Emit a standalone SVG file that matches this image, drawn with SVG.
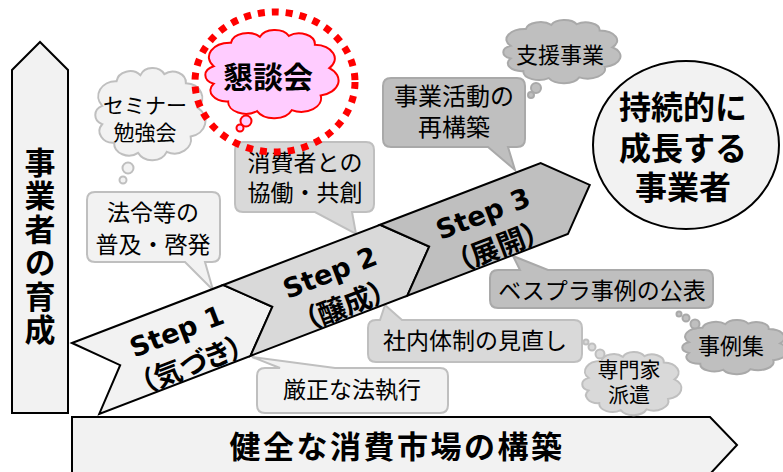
<svg xmlns="http://www.w3.org/2000/svg" xmlns:xlink="http://www.w3.org/1999/xlink" width="783" height="472" viewBox="0 0 783 472">
<style>
.blk{stroke:#000;stroke-width:2;stroke-linejoin:miter}
.g1{fill:#f2f2f2;stroke:#bfbfbf;stroke-width:2}
.g2{fill:#d9d9d9;stroke:#bfbfbf;stroke-width:2}
.g3{fill:#bfbfbf;stroke:#a9a9a9;stroke-width:2}
.pink{fill:#ffccff;stroke:#ff0000;stroke-width:2}
.t{font-family:"Noto Sans CJK JP","Noto Sans CJK SC",sans-serif;fill:#000;text-anchor:middle}
.b{font-weight:bold}
.s{font-family:"DejaVu Sans","Noto Sans CJK JP",sans-serif;font-weight:bold;font-size:27px;text-anchor:middle;fill:#000}
.p{font-family:"Noto Sans CJK JP",sans-serif;font-weight:bold;font-size:28px;text-anchor:middle;fill:#000;font-feature-settings:"palt"}
</style>
<defs>
<path id="cloud" vector-effect="non-scaling-stroke" d="M10,42 A14.7,14.7 0 0 1 22,18 A11.5,11.5 0 0 1 42,12 A11,11 0 0 1 62,11 A11,11 0 0 1 80,20 A14.3,14.3 0 0 1 90,44 A15.7,15.7 0 0 1 84,72 A13.8,13.8 0 0 1 64,87 A13.2,13.2 0 0 1 40,88 A12.3,12.3 0 0 1 20,78 A11.3,11.3 0 0 1 10,60 A9.9,9.9 0 0 1 10,42 Z"/>
</defs>
<rect width="783" height="472" fill="#fff"/>

<!-- left vertical arrow -->
<g id="node-ikusei">
<polygon class="blk" fill="#f2f2f2" points="12,70 40,42 68,70 68,413 12,413"/>
<text class="t b" x="40" y="247" font-size="31" letter-spacing="2.5" writing-mode="vertical-rl">事業者の育成</text>
</g>

<!-- bottom arrow -->
<g id="node-shijou">
<polygon class="blk" fill="#f2f2f2" points="72,417 710,417 737,445 710,474 72,474"/>
<text class="t b" x="397" y="458" font-size="31" letter-spacing="2.5">健全な消費市場の構築</text>
</g>

<!-- callouts -->
<g id="node-fukyu">
<path class="g1" d="M95,192 H212 Q220,192 220,200 V254 Q220,262 212,262 H205 L213,290 L185,262 H95 Q87,262 87,254 V200 Q87,192 95,192 Z"/>
<text class="t" font-size="23"><tspan x="153" y="221">法令等の</tspan><tspan x="153" y="253">普及・啓発</tspan></text>
</g>
<g id="node-kyoudou">
<path class="g2" d="M243,142 H366 Q374,142 374,150 V204 Q374,212 366,212 H352 L356,234 L315,212 H243 Q235,212 235,204 V150 Q235,142 243,142 Z"/>
<text class="t" font-size="23"><tspan x="305" y="171">消費者との</tspan><tspan x="305" y="201">協働・共創</tspan></text>
</g>
<g id="node-saikouchiku">
<path class="g3" d="M391,78 H517 Q525,78 525,86 V139 Q525,147 517,147 H508 L515,170 L488,147 H391 Q383,147 383,139 V86 Q383,78 391,78 Z"/>
<text class="t" font-size="24"><tspan x="454" y="105">事業活動の</tspan><tspan x="454" y="136">再構築</tspan></text>
</g>
<g id="node-besupura">
<path class="g3" d="M498,270 H520 L513,256 L548,270 H705 Q713,270 713,278 V300 Q713,308 705,308 H498 Q490,308 490,300 V278 Q490,270 498,270 Z"/>
<text class="t" x="602" y="299" font-size="23">ベスプラ事例の公表</text>
</g>
<g id="node-shanai">
<path class="g2" d="M376,320 H380 L385,305 L402,320 H574 Q582,320 582,328 V354 Q582,362 574,362 H376 Q368,362 368,354 V328 Q368,320 376,320 Z"/>
<text class="t" x="475" y="349" font-size="23">社内体制の見直し</text>
</g>
<g id="node-shikkou">
<path class="g1" d="M265,368 H280 L252,357 L335,368 H440 Q448,368 448,376 V405 Q448,413 440,413 H265 Q257,413 257,405 V376 Q257,368 265,368 Z"/>
<text class="t" x="352" y="398" font-size="23">厳正な法執行</text>
</g>

<!-- steps band -->
<g transform="translate(72,343) rotate(-21)">
<g id="node-step1">
<polygon class="blk" fill="#f2f2f2" points="0,0 162,0 200,38 162,76 0,76 37,38"/>
<text class="s" x="102" y="36">Step 1</text>
<text class="p" x="104" y="73">（気づき）</text>
</g>
<g id="node-step2">
<polygon class="blk" fill="#d9d9d9" points="162,0 330,0 368,38 330,76 162,76 200,38"/>
<text class="s" x="266" y="36">Step 2</text>
<text class="p" x="268" y="73">（醸成）</text>
</g>
<g id="node-step3">
<polygon class="blk" fill="#bfbfbf" points="330,0 502,0 540,38 502,76 330,76 368,38"/>
<text class="s" x="430" y="36">Step 3</text>
<text class="p" x="432" y="73">（展開）</text>
</g>
</g>

<!-- clouds -->
<g id="node-seminar">
<use xlink:href="#cloud" href="#cloud" class="g1" transform="translate(90.22,62.89) scale(1.1957,1.0222)"/>
<text class="t" font-size="21"><tspan x="145" y="113">セミナー</tspan><tspan x="145" y="140">勉強会</tspan></text>
</g>
<g id="node-shien">
<use xlink:href="#cloud" href="#cloud" class="g3" transform="translate(497.91,16.5) scale(1.2717,0.7)"/>
<text class="t" x="560" y="63" font-size="22">支援事業</text>
</g>
<g id="node-jireishu">
<use xlink:href="#cloud" href="#cloud" class="g3" transform="translate(677.43,317) scale(1.1413,0.6)"/>
<text class="t" x="731" y="354" font-size="22">事例集</text>
</g>
<g id="node-senmonka">
<use xlink:href="#cloud" href="#cloud" class="g2" transform="translate(577.7,348.5) scale(1.0761,0.7)"/>
<text class="t" font-size="21"><tspan x="629" y="377">専門家</tspan><tspan x="629" y="402">派遣</tspan></text>
</g>
<g id="node-kondankai">
<use xlink:href="#cloud" href="#cloud" class="pink" transform="translate(199.22,25.11) scale(1.4457,0.9778)"/>
<text class="t b" x="268" y="88" font-size="30">懇談会</text>
<ellipse cx="275" cy="82" rx="80" ry="70" fill="none" stroke="#ff0000" stroke-width="7" stroke-dasharray="7 7"/>
</g>

<!-- goal circle -->
<g id="node-goal">
<ellipse class="blk" fill="#f2f2f2" cx="686" cy="145" rx="93" ry="84"/>
<text class="t b" font-size="32"><tspan x="683" y="119">持続的に</tspan><tspan x="683" y="160">成長する</tspan><tspan x="683" y="199">事業者</tspan></text>
</g>

<!-- thought trails -->
<g id="connectors">
<circle class="g1" cx="128" cy="168" r="5.5"/>
<circle class="g1" cx="123" cy="180" r="3.5"/>
<circle class="pink" cx="246" cy="121" r="5.5"/>
<circle class="pink" cx="240" cy="128" r="3.5"/>
<circle class="g3" cx="536" cy="88" r="5"/>
<circle class="g3" cx="531" cy="95" r="3"/>
<circle class="g3" cx="679" cy="314" r="2.5"/>
<circle class="g3" cx="686" cy="318" r="3.5"/>
<circle class="g3" cx="695" cy="324" r="4.5"/>
<circle class="g2" cx="586" cy="342" r="2.5"/>
<circle class="g2" cx="592" cy="347" r="3.5"/>
<circle class="g2" cx="600" cy="354" r="4.5"/>
</g>
</svg>
